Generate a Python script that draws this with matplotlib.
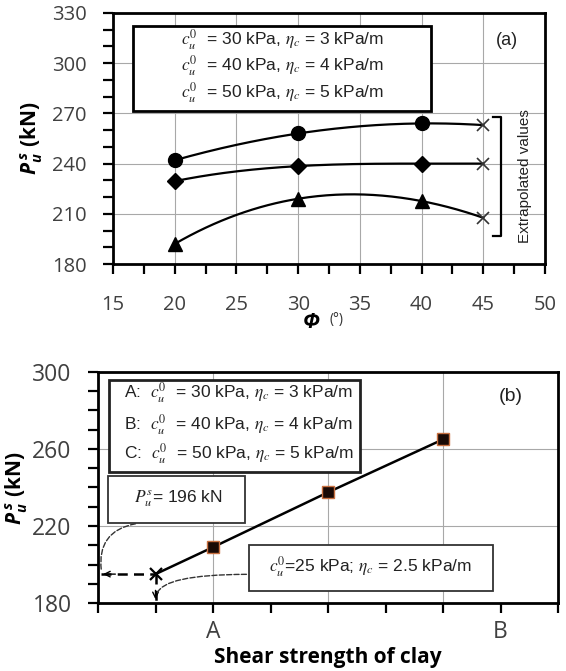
import numpy as np
import matplotlib
matplotlib.use("Agg")
import matplotlib.pyplot as plt
from matplotlib.patches import Rectangle
from matplotlib.ticker import MultipleLocator, FixedLocator

plt.rcParams['font.family'] = ['Open Sans', 'DejaVu Sans']
plt.rcParams['mathtext.fontset'] = 'custom'
plt.rcParams['mathtext.it'] = 'Open Sans:italic:bold'
plt.rcParams['mathtext.rm'] = 'Open Sans:bold'
plt.rcParams['mathtext.bf'] = 'Open Sans:bold'

# (a) capacity vs friction angle
phi = [20, 30, 40]
phi_ext = 45
p_c30 = [242, 258, 264]
p_c40 = [229.5, 238.5, 240]
p_c50 = [192, 219, 217.6]
p_ext = [263, 240, 207.6]
legend_a = [r'$c_u^0$  = 30 kPa, $\eta_c$ = 3 kPa/m',
            r'$c_u^0$  = 40 kPa, $\eta_c$ = 4 kPa/m',
            r'$c_u^0$  = 50 kPa, $\eta_c$ = 5 kPa/m']

# (b) capacity vs shear strength
strength_pos = [2, 4, 6]
strength_p = [209, 237.5, 265]
est_pos, est_p = 1, 195
xtick_pos = list(range(0, 9))
xtick_lab = ['', '', 'A', '', '', '', '', 'B', '']
ytick_b = [180, 220, 260, 300]
legend_b = [r'A:  $c_u^0$  = 30 kPa, $\eta_c$ = 3 kPa/m',
            r'B:  $c_u^0$  = 40 kPa, $\eta_c$ = 4 kPa/m',
            r'C:  $c_u^0$  = 50 kPa, $\eta_c$ = 5 kPa/m']

W, H = 566, 671
fig = plt.figure(figsize=(W / 100, H / 100), dpi=100)

def rect(l, t, r, b):
    return [l / W, 1 - b / H, (r - l) / W, (b - t) / H]

narrow = ['Liberation Sans', 'DejaVu Sans']
tick_col = '#404040'
txt_col = '#222222'

def style(ax, fs, xpad, ypad):
    for s in ax.spines.values():
        s.set_linewidth(2.0)
        s.set_color('black')
    ax.tick_params(which='both', direction='out', length=7, width=1.6,
                   color='black', labelcolor=tick_col, labelsize=fs)
    ax.tick_params(axis='x', which='both', pad=xpad)
    ax.tick_params(axis='y', which='both', pad=ypad)
    ax.set_axisbelow(True)

# ---------- (a)
ax1 = fig.add_axes(rect(113, 13, 545, 264))
ax1.set_xlim(15, 50)
ax1.set_ylim(180, 330)
ax1.xaxis.set_major_locator(MultipleLocator(5))
ax1.xaxis.set_minor_locator(MultipleLocator(2.5))
ax1.yaxis.set_major_locator(MultipleLocator(30))
ax1.yaxis.set_minor_locator(MultipleLocator(10))
style(ax1, 14.5, 15, 12)
for g in range(20, 50, 5):
    ax1.axvline(g, color='#a8a8a8', lw=0.8, zorder=0)
for g in range(210, 330, 30):
    ax1.axhline(g, color='#a8a8a8', lw=0.8, zorder=0)

xs = np.linspace(20, 45, 200)
for vals, ext, mk, ms in [(p_c30, p_ext[0], 'o', 10), (p_c40, p_ext[1], 'D', 8.5),
                          (p_c50, p_ext[2], '^', 9.5)]:
    xx = phi + [phi_ext]
    yy = vals + [ext]
    coef = np.polyfit(xx, yy, 3)
    ax1.plot(xs, np.polyval(coef, xs), color='black', lw=1.6, zorder=3)
    ax1.plot(phi, vals, ls='none', marker=mk, ms=ms, color='black', zorder=4)
    ax1.plot([phi_ext], [ext], ls='none', marker='x', ms=8, mew=1.2,
             color='#333333', zorder=4)

ax1.add_patch(Rectangle((16.64, 271.5), 40.77 - 16.64, 322.4 - 271.5,
                        facecolor='white', edgecolor='black', lw=2, zorder=5))
for txt, yv in zip(legend_a, [314.4, 298.4, 282.5]):
    ax1.text(20.5, yv, txt, ha='left', va='center', fontsize=12.5,
             family=narrow, math_fontfamily='stix', color=txt_col, zorder=6)
ax1.text(46.9, 313.4, '(a)', ha='center', va='center', fontsize=13,
         family=narrow, color=txt_col)

# bracket for extrapolated values
ax1.plot([45.8, 46.47, 46.47, 45.8], [268.1, 268.1, 196.6, 196.6],
         color='black', lw=1.6, clip_on=False)
ax1.text(48.36, 232.5, 'Extrapolated values', rotation=90, ha='center',
         va='center', fontsize=11, family=narrow, color=txt_col)

fig.text(32 / W, 1 - 138 / H, r'$P_u^{\,s}$ (kN)', rotation=90, ha='center',
         va='center', fontsize=15, fontweight='bold')
fig.text(311 / W, 1 - 322 / H, 'Φ', ha='center', va='center', fontsize=15,
         fontweight='bold', fontstyle='italic')
fig.text(337 / W, 1 - 320 / H, '(°)', ha='center', va='center', fontsize=10,
         color='#333333')

# ---------- (b)
ax2 = fig.add_axes(rect(98, 372, 558, 603))
ax2.set_xlim(0, 8)
ax2.set_ylim(180, 300)
ax2.set_xticks(xtick_pos)
ax2.set_xticklabels(xtick_lab)
ax2.yaxis.set_major_locator(FixedLocator(ytick_b))
ax2.yaxis.set_minor_locator(MultipleLocator(10))
style(ax2, 16.5, 5, 12)
for g in [2, 4, 6]:
    ax2.axvline(g, color='#a8a8a8', lw=0.8, zorder=0)
for g in [220, 260]:
    ax2.axhline(g, color='#a8a8a8', lw=0.8, zorder=0)

ax2.plot([est_pos] + strength_pos, [est_p] + strength_p, color='black', lw=1.8, zorder=3)
ax2.plot(strength_pos, strength_p, ls='none', marker='s', ms=9,
         mfc='#1a0a05', mec='#c87040', mew=1, zorder=4)
ax2.plot([est_pos], [est_p], ls='none', marker='x', ms=8, mew=1.6,
         color='black', zorder=4)

# dashed arrows to the axes
ax2.plot([0.06, est_pos], [est_p, est_p], ls=(0, (4, 2.5)), color='black', lw=1.8, zorder=3)
ax2.annotate('', xy=(0.04, est_p), xytext=(0.35, est_p),
             arrowprops=dict(arrowstyle='->', lw=1.0, color='black'))
ax2.plot([est_pos, est_pos], [est_p, 181], ls=(0, (4, 2.5)), color='black', lw=1.8, zorder=3)
ax2.annotate('', xy=(est_pos, 180.5), xytext=(est_pos, 188),
             arrowprops=dict(arrowstyle='->', lw=1.0, color='black'))

# boxes
ax2.add_patch(Rectangle((0.19, 248.2), 4.55 - 0.19, 295.8 - 248.2,
                        facecolor='white', edgecolor=txt_col, lw=2, zorder=5))
for txt, yv in zip(legend_b, [289.3, 272.5, 257.8]):
    ax2.text(0.45, yv, txt, ha='left', va='center', fontsize=12.5,
             family=narrow, math_fontfamily='stix', color=txt_col, zorder=6)
ax2.text(7.18, 287.5, '(b)', ha='center', va='center', fontsize=14,
         family=narrow, color=txt_col)

ax2.add_patch(Rectangle((0.18, 221.4), 2.56 - 0.18, 246.0 - 221.4,
                        facecolor='white', edgecolor='#333333', lw=1.3, zorder=5))
ax2.text(1.39, 234.4, r'$P_u^s$= 196 kN', ha='center', va='center', fontsize=12.5,
         family=narrow, math_fontfamily='stix', color=txt_col, zorder=6)

ax2.add_patch(Rectangle((2.63, 186.4), 6.87 - 2.63, 210.1 - 186.4,
                        facecolor='white', edgecolor='#333333', lw=1.3, zorder=5))
ax2.text(4.74, 198.9, r'$c_u^0$=25 kPa; $\eta_c$ = 2.5 kPa/m', ha='center',
         va='center', fontsize=12.5, family=narrow, math_fontfamily='stix',
         color=txt_col, zorder=6)

ax2.annotate('', xy=(0.064, 195.6), xytext=(0.70, 221.4),
             arrowprops=dict(arrowstyle='-', ls='--', lw=1.0, color='#333333',
                             connectionstyle='arc3,rad=0.5'))
ax2.annotate('', xy=(1.02, 183.3), xytext=(2.63, 194.9),
             arrowprops=dict(arrowstyle='-', ls='--', lw=1.0, color='#333333',
                             connectionstyle='angle3,angleA=0,angleB=90'))

fig.text(16.5 / W, 1 - 488 / H, r'$P_u^{\,s}$ (kN)', rotation=90, ha='center',
         va='center', fontsize=15, fontweight='bold')
fig.text(328 / W, 1 - 657 / H, 'Shear strength of clay', ha='center',
         va='center', fontsize=15, fontweight='bold')

fig.savefig('out.png', dpi=100)
